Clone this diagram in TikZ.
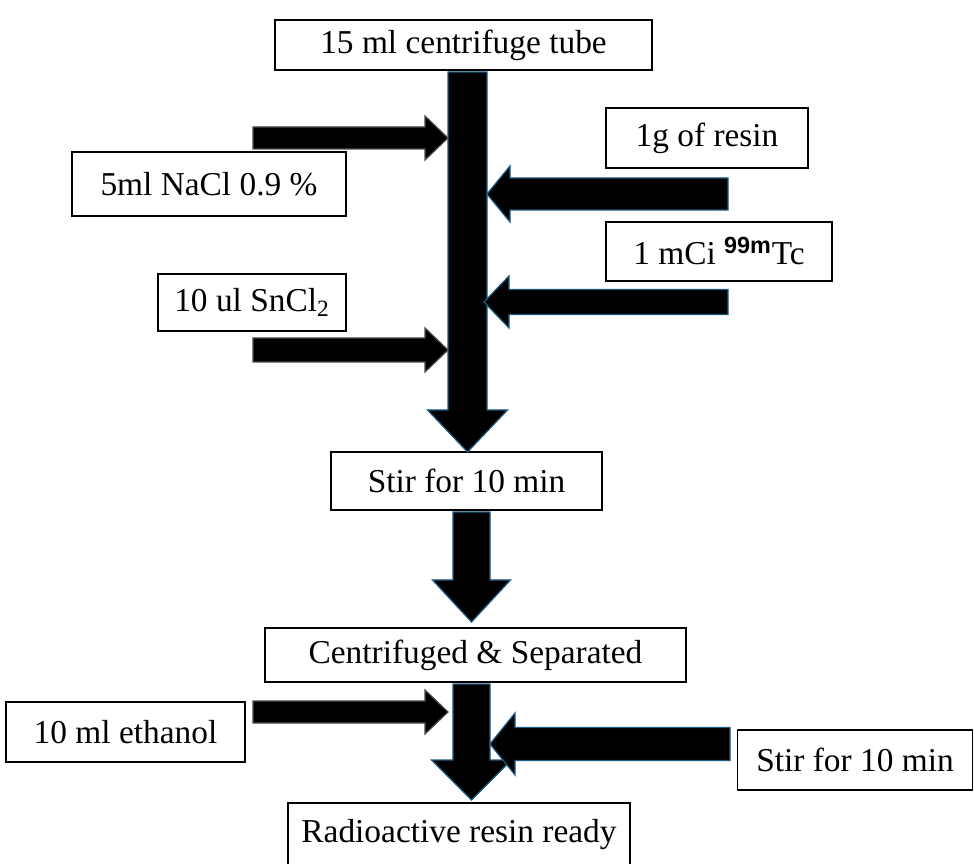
\documentclass[tikz,border=0pt]{standalone}
\usepackage{fontspec}
\setmainfont{Liberation Serif}
\setsansfont{Liberation Sans}
\usetikzlibrary{calc}

\definecolor{edgeblue}{RGB}{30,90,130}

\tikzset{
  stepbox/.style={draw, line width=1pt, fill=white, inner sep=0pt,
    font=\fontsize{19}{23}\selectfont},
  fatarrow/.style={fill=black, draw=edgeblue, line width=0.7pt, line join=miter},
  sidearrow/.style={fill=black, draw=black!70, line width=0.7pt}
}

% fat block arrow: [opts]{from}{to}{half shaft}{half head}{head length}, sizes in px
\newcommand{\fatarrow}[6][]{%
  \path ($(#3)!#6*0.02cm!(#2)$) coordinate (fa-h);
  \draw[fatarrow,#1] ($(#2)!#4*0.02cm!90:(#3)$)
    -- ($(fa-h)!#4*0.02cm!-90:(#2)$)
    -- ($(fa-h)!#5*0.02cm!-90:(#2)$)
    -- (#3)
    -- ($(fa-h)!#5*0.02cm!90:(#2)$)
    -- ($(fa-h)!#4*0.02cm!90:(#2)$)
    -- ($(#2)!#4*0.02cm!-90:(#3)$) -- cycle;}

\begin{document}
\begin{tikzpicture}[x=0.02cm, y=-0.02cm]
  \useasboundingbox (0,0) rectangle (974,864);

  % boxes
  \node[stepbox, minimum width=377*0.02cm, minimum height=50*0.02cm] (tube) at (463.5,45) {15 ml centrifuge tube};
  \node[stepbox, minimum width=274*0.02cm, minimum height=64*0.02cm] (nacl) at (209,184) {5ml NaCl 0.9 \%};
  \node[stepbox, minimum width=202*0.02cm, minimum height=60*0.02cm] (resin) at (707,138) {1g of resin};
  \node[stepbox, minimum width=226*0.02cm, minimum height=59*0.02cm] (tc) at (719,251.5) {1 mCi \textsuperscript{\sffamily\bfseries 99m}Tc};
  \node[stepbox, minimum width=188*0.02cm, minimum height=57*0.02cm] (sncl) at (252,302.5) {10 ul SnCl\textsubscript{2}};
  \node[stepbox, minimum width=271*0.02cm, minimum height=58*0.02cm] (stir1) at (466.5,481) {Stir for 10 min};
  \node[stepbox, minimum width=421*0.02cm, minimum height=54*0.02cm] (centr) at (475.5,655) {Centrifuged \& Separated};
  \node[stepbox, minimum width=239*0.02cm, minimum height=60*0.02cm] (ethanol) at (125.5,732) {10 ml ethanol};
  \node[stepbox, minimum width=235*0.02cm, minimum height=60*0.02cm] (stir2) at (855,760) {Stir for 10 min};
  \node[stepbox, minimum width=342*0.02cm, minimum height=64*0.02cm] (ready) at (459,835) {Radioactive resin ready};

  % arrow ends
  \coordinate (m1) at (467.5,72);
  \coordinate (m2) at (467.5,452);
  \coordinate (s1) at (471.5,512);
  \coordinate (s2) at (471.5,622);
  \coordinate (c1) at (471.5,684);
  \coordinate (c2) at (471.5,800);
  \coordinate (l1a) at (253,138);
  \coordinate (l1b) at (448,138);
  \coordinate (l2a) at (253,350);
  \coordinate (l2b) at (448,350);
  \coordinate (l3a) at (253,712);
  \coordinate (l3b) at (448,712);
  \coordinate (r1a) at (728,194);
  \coordinate (r1b) at (487,194);
  \coordinate (r2a) at (728,302);
  \coordinate (r2b) at (484,302);
  \coordinate (r3a) at (730,744);
  \coordinate (r3b) at (490,744);

  % main flow
  \fatarrow{m1}{m2}{19.5}{40}{42}
  \fatarrow{s1}{s2}{18.5}{39}{42}
  \fatarrow{c1}{c2}{18.5}{40}{40}

  % inputs
  \fatarrow[sidearrow]{l1a}{l1b}{11}{22}{23}
  \fatarrow[sidearrow]{l2a}{l2b}{12}{22}{23}
  \fatarrow[sidearrow]{l3a}{l3b}{11}{22}{23}
  \fatarrow{r1a}{r1b}{16}{28}{23}
  \fatarrow{r2a}{r2b}{12.5}{26}{25}
  \fatarrow{r3a}{r3b}{16.5}{31}{25}
\end{tikzpicture}
\end{document}
